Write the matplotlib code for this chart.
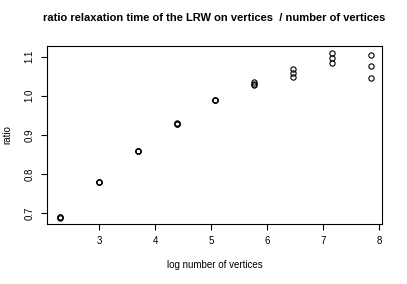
import numpy as np
import matplotlib
matplotlib.use('Agg')
import matplotlib.pyplot as plt

plt.rcParams['font.family'] = ['Liberation Sans', 'DejaVu Sans']

# numero de vertices (log) e as tres repeticoes da razao
log_vertices = [2.303, 2.996, 3.689, 4.382, 5.075, 5.768, 6.461, 7.155, 7.848]
razao_1 = [0.689, 0.779, 0.858, 0.928, 0.988, 1.028, 1.048, 1.083, 1.045]
razao_2 = [0.690, 0.780, 0.859, 0.929, 0.989, 1.031, 1.058, 1.096, 1.075]
razao_3 = [0.691, 0.781, 0.860, 0.930, 0.990, 1.034, 1.068, 1.109, 1.103]

x_ticks = [3, 4, 5, 6, 7, 8]
y_ticks = [0.7, 0.8, 0.9, 1.0, 1.1]

fig = plt.figure(figsize=(4.07, 2.84), dpi=100)
ax = fig.add_axes([47 / 407, 1 - 224 / 284, 335 / 407, 178 / 284])

for r in [razao_1, razao_2, razao_3]:
    ax.plot(log_vertices, r, 'o', ms=3.8, mfc='none', mec='black', mew=0.8)

ax.set_xlim(2.07, 8.05)
ax.set_ylim(0.673, 1.127)
ax.set_xticks(x_ticks)
ax.set_yticks(y_ticks)
ax.set_yticklabels([str(v) for v in y_ticks], rotation=90, va='center')
ax.tick_params(labelsize=7, length=4, width=0.8, pad=5)

for s in ax.spines.values():
    s.set_linewidth(0.8)

ax.set_xlabel('log number of vertices', fontsize=7, labelpad=10)
ax.set_ylabel('ratio', fontsize=7, labelpad=9)
ax.set_title('ratio relaxation time of the LRW on vertices  / number of vertices',
             fontsize=8, fontweight='bold', pad=18)

fig.savefig('out.png', dpi=100)
